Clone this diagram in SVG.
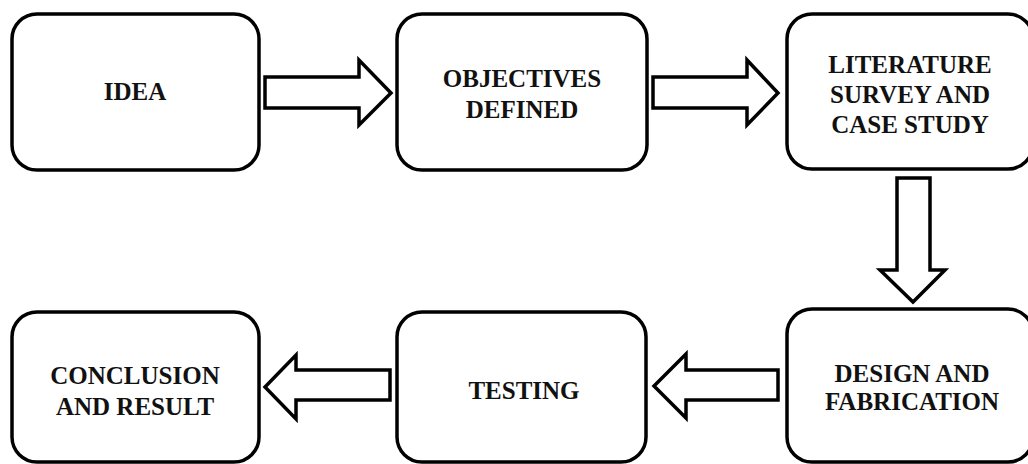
<svg xmlns="http://www.w3.org/2000/svg" width="1028" height="464" viewBox="0 0 1028 464">
<style>
.box{fill:#fff;stroke:#000;stroke-width:3.5}
.arr{fill:#fff;stroke:#000;stroke-width:3.5;stroke-linejoin:miter}
.t{font-family:"Liberation Serif","Times New Roman",serif;font-weight:bold;font-size:25px;fill:#111;text-anchor:middle}
</style>
<rect width="1028" height="464" fill="#fff"/>
<g id="connectors">
<polygon class="arr" points="265,77 359,77 359,60 391,93 359,125 359,108 265,108"/>
<polygon class="arr" points="653,77 747,77 747,60 778,93 747,125 747,108 653,108"/>
<polygon class="arr" points="897,178 930,178 930,270 945,270 913,302 880,270 897,270"/>
<polygon class="arr" points="778,370 686,370 686,354 654,386 686,418 686,400 778,400"/>
<polygon class="arr" points="390,370 296,370 296,355 265,387 296,419 296,400 390,400"/>
</g>
<g id="idea">
<rect class="box" x="12" y="14" width="247" height="156" rx="25"/>
<text class="t" x="135" y="100">IDEA</text>
</g>
<g id="objectives">
<rect class="box" x="397" y="14" width="250" height="156" rx="25"/>
<text class="t" x="522" y="87">OBJECTIVES</text>
<text class="t" x="522" y="118">DEFINED</text>
</g>
<g id="literature">
<rect class="box" x="787" y="14" width="246" height="155" rx="25"/>
<text class="t" x="910" y="73">LITERATURE</text>
<text class="t" x="910" y="103">SURVEY AND</text>
<text class="t" x="910" y="133">CASE STUDY</text>
</g>
<g id="design">
<rect class="box" x="787" y="309" width="246" height="153" rx="25"/>
<text class="t" x="912" y="382">DESIGN AND</text>
<text class="t" x="912" y="410">FABRICATION</text>
</g>
<g id="testing">
<rect class="box" x="397" y="312" width="249" height="150" rx="25"/>
<text class="t" x="524" y="399">TESTING</text>
</g>
<g id="conclusion">
<rect class="box" x="12" y="312" width="247" height="150" rx="25"/>
<text class="t" x="135" y="384">CONCLUSION</text>
<text class="t" x="135" y="415">AND RESULT</text>
</g>
</svg>
